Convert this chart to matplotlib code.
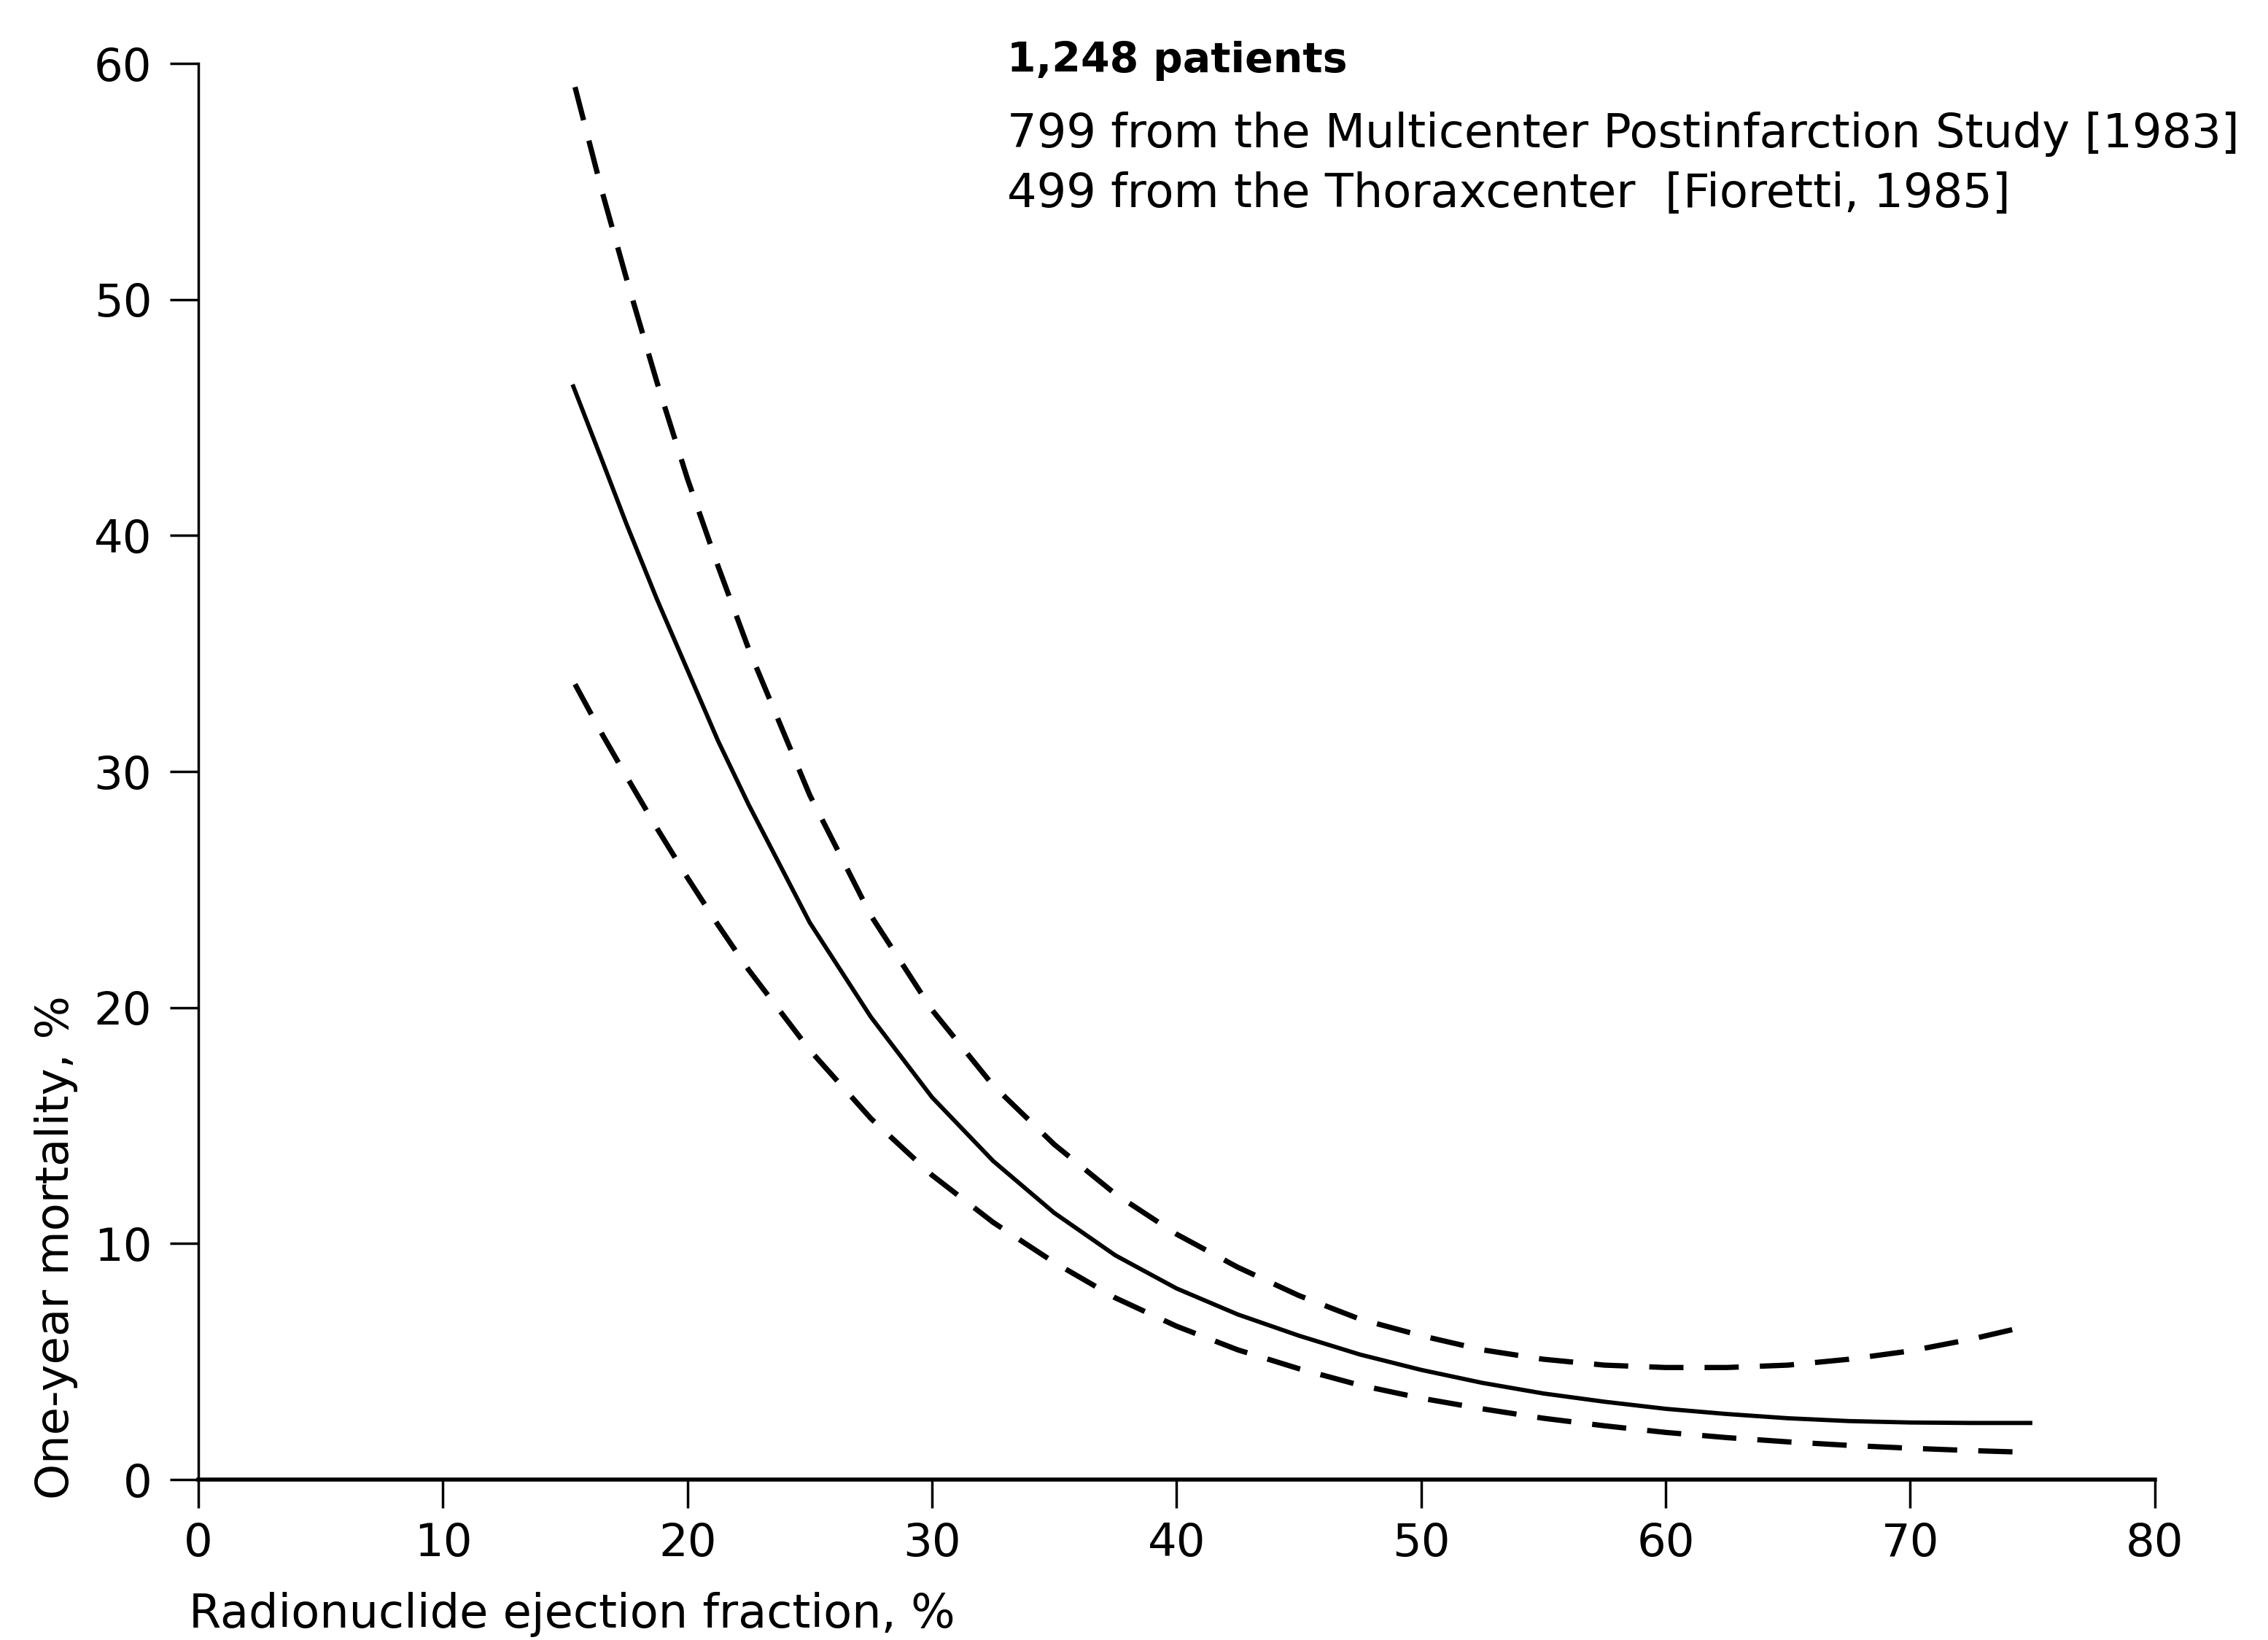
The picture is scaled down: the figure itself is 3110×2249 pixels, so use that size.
import matplotlib
matplotlib.use('Agg')
import matplotlib.pyplot as plt

# ejection fraction (%) and one-year mortality (%)
ef_mid = [15.3, 16.5, 17.5, 18.75, 20, 21.25, 22.5, 25, 27.5, 30, 32.5, 35, 37.5, 40,
          42.5, 45, 47.5, 50, 52.5, 55, 57.5, 60, 62.5, 65, 67.5, 70, 72.5, 75]
mort_mid = [46.4, 43.2, 40.5, 37.3, 34.3, 31.3, 28.6, 23.6, 19.6, 16.2, 13.5, 11.3, 9.5, 8.1,
            7.0, 6.1, 5.3, 4.65, 4.1, 3.65, 3.3, 3.0, 2.78, 2.6, 2.48, 2.42, 2.4, 2.4]

ef_up = [15.4, 16.5, 17.5, 18.75, 20, 21.25, 22.5, 25, 27.5, 30, 32.5, 35, 37.5, 40,
         42.5, 45, 47.5, 50, 52.5, 55, 57.5, 60, 62.5, 65, 67.5, 70, 72.5, 75]
mort_up = [59.0, 54.6, 50.9, 46.5, 42.4, 38.7, 35.2, 29.0, 23.9, 19.9, 16.7, 14.2, 12.1, 10.4,
           9.0, 7.8, 6.8, 6.1, 5.5, 5.1, 4.85, 4.75, 4.75, 4.85, 5.1, 5.45, 5.95, 6.55]

ef_lo = [15.4, 16.5, 17.5, 18.75, 20, 21.25, 22.5, 25, 27.5, 30, 32.5, 35, 37.5, 40,
         42.5, 45, 47.5, 50, 52.5, 55, 57.5, 60, 62.5, 65, 67.5, 70, 72.5, 75]
mort_lo = [33.7, 31.6, 29.8, 27.6, 25.5, 23.5, 21.6, 18.2, 15.3, 12.9, 10.9, 9.2, 7.7, 6.5,
           5.5, 4.7, 4.0, 3.45, 3.0, 2.6, 2.28, 2.0, 1.78, 1.6, 1.45, 1.33, 1.23, 1.15]

xticks = [0, 10, 20, 30, 40, 50, 60, 70, 80]
yticks = [0, 10, 20, 30, 40, 50, 60]

fig = plt.figure(figsize=(31.1, 22.49), dpi=100)
ax = fig.add_axes([0.0875, 0.0978, 0.8625, 0.8635])

ax.plot(ef_mid, mort_mid, color='k', lw=4.2, solid_capstyle='butt', solid_joinstyle='round')
ax.plot(ef_up, mort_up, color='k', lw=5.2, dashes=(6.5, 4))
ax.plot(ef_lo, mort_lo, color='k', lw=5.2, dashes=(6.5, 4))

ax.set_xlim(0, 80)
ax.set_ylim(0, 60)
ax.set_xticks(xticks)
ax.set_yticks(yticks)
ax.spines['top'].set_visible(False)
ax.spines['right'].set_visible(False)
ax.spines['left'].set_linewidth(2.5)
ax.spines['bottom'].set_linewidth(4)
ax.tick_params(axis='both', direction='out', length=28, width=2.5, color='k', labelsize=45)
ax.tick_params(axis='y', pad=18)
ax.tick_params(axis='x', pad=14)

ax.set_xlabel('Radionuclide ejection fraction, %', fontsize=46, ha='left', va='baseline')
ax.xaxis.set_label_coords(-0.005, -0.1045)
ax.set_ylabel('One-year mortality, %', fontsize=45, ha='center', va='center')
ax.yaxis.set_label_coords(-0.0727, 0.164)

fig.text(0.444, 0.963, '1,248 patients', fontsize=41, fontweight='bold', va='center')
fig.text(0.444, 0.918, '799 from the Multicenter Postinfarction Study [1983]', fontsize=46, va='center')
fig.text(0.444, 0.882, '499 from the Thoraxcenter  [Fioretti, 1985]', fontsize=46, va='center')

plt.savefig('out.png', dpi=100)
